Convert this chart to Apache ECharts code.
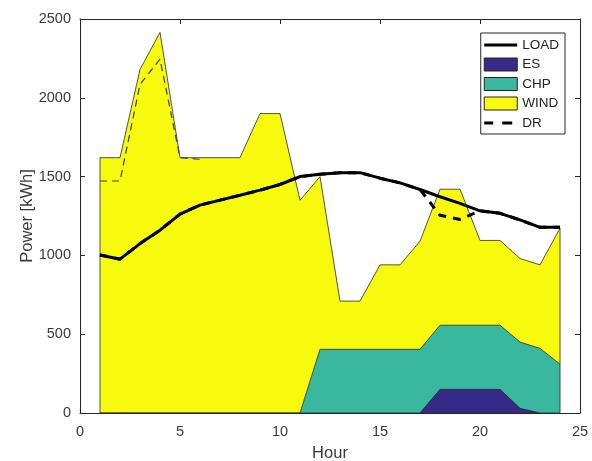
<!DOCTYPE html>
<html>
<head>
<meta charset="utf-8">
<script src="https://cdn.jsdelivr.net/npm/echarts@6/dist/echarts.min.js"></script>
<style>html,body{margin:0;padding:0;background:#fff}#c{width:592px;height:461px}</style>
</head>
<body>
<div id="c"></div>
<script>
// ---- data ----
const hours = [1,2,3,4,5,6,7,8,9,10,11,12,13,14,15,16,17,18,19,20,21,22,23,24];
const ES   = [0,0,0,0,0,0,0,0,0,0,0,0,0,0,0,0,0,150,150,150,150,30,0,0];
const CHP  = [0,0,0,0,0,0,0,0,0,0,0,404,404,404,404,404,404,407,407,407,407,420,410,310];
const WIND = [1620,1620,2180,2415,1620,1620,1620,1620,1900,1900,1350,1096,306,306,536,536,686,863,863,538,538,530,530,862];
const LOAD = [1003,976,1075,1160,1262,1319,1351,1382,1414,1450,1500,1515,1525,1525,1490,1460,1418,1372,1330,1283,1267,1225,1178,1178];
const DR   = [1003,976,1075,1160,1262,1319,1351,1382,1414,1450,1500,1515,1525,1525,1490,1460,1418,1255,1228,1283,1267,1225,1178,1178];
const drEarlyHours = [1,2,3,4,5,6];
const drEarly = [1472,1472,2085,2245,1620,1610];
const xTicks = [0,5,10,15,20,25];
const yTicks = [0,500,1000,1500,2000,2500];

const pair = (xs, ys) => xs.map((x, i) => [x, ys[i]]);
// cumulative stack levels (ES at bottom, then CHP, then WIND)
const lvlES = ES.slice();
const lvlCHP = ES.map((v, i) => v + CHP[i]);
const lvlWIND = lvlCHP.map((v, i) => v + WIND[i]);
const last = hours.length - 1;

const FONT = 'Liberation Sans, Arial, sans-serif';
const edge = { color: '#2b2b2b', width: 0.8 };
const tickFont = { fontFamily: FONT, fontSize: 14.5, color: '#3a3a3a' };

function areaSeries(name, vals, color) {
  return {
    name, type: 'line', data: pair(hours, vals),
    symbol: 'none', lineStyle: edge, itemStyle: { color },
    areaStyle: { color, opacity: 1 }, emphasis: { disabled: true }
  };
}

const chart = echarts.init(document.getElementById('c'), null, { renderer: 'canvas' });
const axisLine = { show: true, onZero: false, lineStyle: { color: '#262626', width: 1 } };
const tick = { inside: true, length: 5, lineStyle: { color: '#262626' } };
const plain = v => String(v);
const rectStyle = { borderColor: '#222', borderWidth: 1 };
chart.setOption({
  animation: false,
  backgroundColor: '#ffffff',
  grid: { left: 80, right: 12, top: 19, bottom: 48, containLabel: false, outerBoundsMode: 'none' },
  legend: {
    orient: 'vertical', right: 27, top: 33,
    data: [
      { name: 'LOAD', icon: 'path://M0,0h33v3h-33z', itemStyle: { color: '#000', borderWidth: 0 } },
      { name: 'ES', icon: 'rect', itemStyle: rectStyle },
      { name: 'CHP', icon: 'rect', itemStyle: rectStyle },
      { name: 'WIND', icon: 'rect', itemStyle: rectStyle },
      { name: 'DR', icon: 'path://M0,0h9v3h-9z M18,0h10v3h-10z M32.8,1h0.2v1h-0.2z', itemStyle: { color: '#000', borderWidth: 0 } }
    ],
    symbolKeepAspect: true,
    itemWidth: 33, itemHeight: 13, itemGap: 5.5, padding: [5, 6, 4, 3],
    borderColor: '#262626', borderWidth: 1, backgroundColor: '#fff',
    textStyle: { fontFamily: FONT, fontSize: 13.5, color: '#222' },
    selectedMode: false
  },
  xAxis: [{
    type: 'value', min: xTicks[0], max: xTicks[xTicks.length - 1], interval: 5,
    name: 'Hour', nameLocation: 'middle', nameGap: 32, nameMoveOverlap: false,
    nameTextStyle: { fontFamily: FONT, fontSize: 16.5, color: '#3a3a3a' },
    axisLine, axisTick: tick,
    axisLabel: Object.assign({ margin: 11, formatter: plain }, tickFont), splitLine: { show: false }
  }, {
    type: 'value', position: 'top', min: xTicks[0], max: xTicks[xTicks.length - 1], interval: 5,
    axisLine, axisTick: tick, axisLabel: { show: false }, splitLine: { show: false }
  }],
  yAxis: [{
    type: 'value', min: yTicks[0], max: yTicks[yTicks.length - 1], interval: 500,
    name: 'Power [kWh]', nameLocation: 'middle', nameGap: 44, nameMoveOverlap: false,
    nameTextStyle: { fontFamily: FONT, fontSize: 16.5, color: '#3a3a3a' },
    axisLine, axisTick: tick,
    axisLabel: Object.assign({ margin: 9, formatter: plain }, tickFont), splitLine: { show: false }
  }, {
    type: 'value', position: 'right', min: yTicks[0], max: yTicks[yTicks.length - 1], interval: 500,
    axisLine, axisTick: tick, axisLabel: { show: false }, splitLine: { show: false }
  }],
  series: [
    areaSeries('WIND', lvlWIND, '#f8fa0d'),
    areaSeries('CHP', lvlCHP, '#3ab89f'),
    areaSeries('ES', lvlES, '#352a87'),
    { name: 'edgeL', type: 'line', symbol: 'none', lineStyle: edge,
      data: [[hours[0], 0], [hours[0], lvlWIND[0]]], emphasis: { disabled: true } },
    { name: 'edgeR', type: 'line', symbol: 'none', lineStyle: edge,
      data: [[hours[last], 0], [hours[last], lvlWIND[last]]], emphasis: { disabled: true } },
    { name: 'drEarly', type: 'line', symbol: 'none',
      lineStyle: { color: '#3a3a55', width: 1.2, type: [7, 5] },
      data: pair(drEarlyHours, drEarly), emphasis: { disabled: true } },
    { name: 'DR', type: 'line', symbol: 'none', itemStyle: { color: '#000' },
      lineStyle: { color: '#000', width: 3, type: [8, 7] },
      data: pair(hours, DR), emphasis: { disabled: true } },
    { name: 'LOAD', type: 'line', symbol: 'none', itemStyle: { color: '#000' },
      lineStyle: { color: '#000', width: 3 },
      data: pair(hours, LOAD), emphasis: { disabled: true } }
  ]
});
</script>
</body>
</html>
